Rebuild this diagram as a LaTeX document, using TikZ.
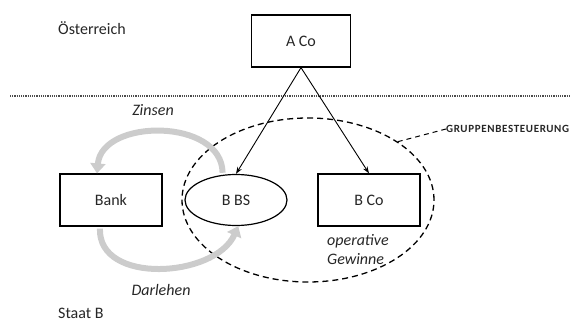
\documentclass[tikz,border=0pt]{standalone}
\usepackage{fontspec}
\setmainfont{Carlito}
\usetikzlibrary{shapes.geometric,arrows.meta}
\tikzset{
  box/.style={draw, line width=1.2pt, minimum width=102pt, minimum height=52pt, inner sep=0pt},
  oval/.style={draw, ellipse, line width=1.2pt, minimum width=102pt, minimum height=51pt, inner sep=0pt},
  lbl/.style={inner sep=0pt, font=\fontsize{16}{19}\selectfont\itshape},
  flow/.style={line width=6pt, draw=gray!40, -{Triangle[width=15pt,length=10pt]}, shorten <=2pt},
}
\begin{document}
\begin{tikzpicture}[x=1pt, y=-1pt, font=\fontsize{16}{19}\selectfont, text=black!85]
\useasboundingbox (0,0) rectangle (571,321);
% nodes
\node[anchor=west, inner sep=0pt] (at) at (58, 28) {Österreich};
\node[anchor=west, inner sep=0pt] (sb) at (58, 313) {Staat B};
\node[box, minimum width=99pt] (aco) at (301, 41) {A Co};
    \node[oval] (bbs) at (236, 200) {B BS};
    \node[box] (bco) at (369, 200) {B Co};
\node[box] (bank) at (111, 200) {Bank};
\node[draw, ellipse, dashed, dash pattern=on 6pt off 4pt, line width=1.3pt,
      minimum width=252pt, minimum height=164pt, inner sep=0pt] (grp) at (308, 200) {};
\node[anchor=west, inner sep=0pt, font=\bfseries\fontsize{11}{13}\selectfont\addfontfeatures{LetterSpace=6}] (gb) at (446, 129) {GRUPPENBESTEUERUNG};
\node[lbl] (zi) at (153, 110) {Zinsen};
\node[lbl] (da) at (161, 290) {Darlehen};
\node[lbl, anchor=west, align=left] (og) at (327, 249.5) {operative\\Gewinne};
% line
\draw[densely dotted, line width=1.2pt, black!70] (10, 96) -- (571, 96);
% arrows
\draw[line width=0.9pt, -{Stealth[length=7pt, width=5pt, open]}] (aco.south) -- (bbs.north);
\draw[line width=0.9pt, -{Stealth[length=7pt, width=5pt, open]}] (aco.south) -- (bco.north);
\draw[dashed, dash pattern=on 5pt off 4pt, line width=1pt] (grp.33) -- (gb.west);
\draw[flow] (bbs.118) .. controls (222, 118) and (102, 118) .. ([xshift=-14pt]bank.north);
\draw[flow] ([xshift=-11pt]bank.south) .. controls (98, 285) and (215, 278) .. (bbs.-85);
\end{tikzpicture}
\end{document}
